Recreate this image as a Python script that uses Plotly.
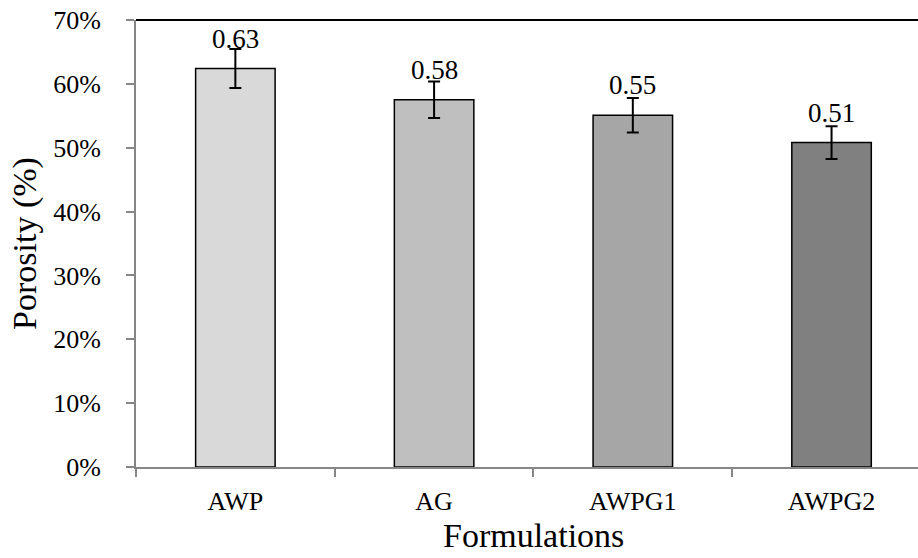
import plotly.graph_objects as go

categories = ["AWP", "AG", "AWPG1", "AWPG2"]
porosity = [0.624, 0.575, 0.551, 0.508]
errors = [0.0305, 0.0285, 0.027, 0.0255]
labels = ["0.63", "0.58", "0.55", "0.51"]
bar_colors = ["#d9d9d9", "#bfbfbf", "#a6a6a6", "#808080"]
y_ticks = [0.0, 0.1, 0.2, 0.3, 0.4, 0.5, 0.6, 0.7]
y_tick_text = ["0%", "10%", "20%", "30%", "40%", "50%", "60%", "70%"]
x_title = "Formulations"
y_title = "Porosity (%)"

FONT = "Liberation Serif"

fig = go.Figure()
fig.add_trace(go.Bar(
    x=categories, y=porosity, width=0.4,
    marker=dict(color=bar_colors, line=dict(color="#000000", width=1.5)),
    error_y=dict(type="data", array=errors, visible=True, color="#000000", thickness=2, width=6),
    showlegend=False, hoverinfo="skip",
))

for c, v, t in zip(categories, porosity, labels):
    fig.add_annotation(x=c, y=v, text=t, showarrow=False, yanchor="bottom", yshift=13,
                       font=dict(family=FONT, size=27, color="#000000"))

fig.add_annotation(xref="paper", yref="paper", x=0.508, y=0, text=x_title, showarrow=False,
                   xanchor="center", yanchor="top", yshift=-48,
                   font=dict(family=FONT, size=34, color="#000000"))

fig.add_shape(type="line", xref="paper", yref="paper", x0=0, x1=1, y0=1, y1=1,
              line=dict(color="#000000", width=2), layer="above")

fig.update_layout(
    width=918, height=558,
    margin=dict(l=136, r=0, t=20, b=91),
    paper_bgcolor="white", plot_bgcolor="white",
    font=dict(family=FONT, size=25, color="#000000"),
    bargap=0.6,
)
fig.update_xaxes(
    range=[-0.5, 3.435], showline=True, linecolor="#868686", linewidth=2,
    ticks="outside", tickson="boundaries", ticklen=8, tickcolor="#868686", tickwidth=2,
    showgrid=False, zeroline=False, automargin=False, ticklabelstandoff=10,
    tickfont=dict(family=FONT, size=26),
)
fig.update_yaxes(
    range=[0, 0.7], tickmode="array", tickvals=y_ticks, ticktext=y_tick_text,
    showline=True, linecolor="#868686", linewidth=2,
    ticks="outside", ticklen=8, tickcolor="#868686", tickwidth=2,
    showgrid=False, zeroline=False, automargin=False, ticklabelstandoff=20,
    tickfont=dict(family=FONT, size=26),
    title=dict(text=y_title, font=dict(family=FONT, size=34), standoff=6),
)

fig.write_html("out.html", config={"displayModeBar": False},
               post_script="document.body.style.margin='0';document.body.style.overflow='hidden';")
